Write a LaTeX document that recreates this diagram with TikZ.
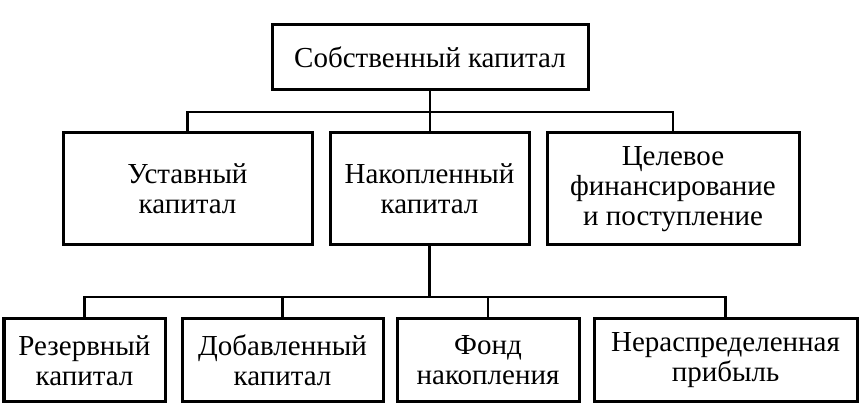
\documentclass[tikz,border=0pt]{standalone}
\usepackage{fontspec}
\setmainfont{Liberation Serif}
\usepackage{tikz}
\usetikzlibrary{positioning}
\tikzset{
	box/.style={draw, line width=1.5pt, align=center, inner sep=0pt,
		font=\fontsize{14.5}{15}\selectfont},
	midbox/.style={box, minimum height=56pt},
	lowbox/.style={box, minimum height=41.5pt},
	link/.style={line width=1.3pt},
}
\begin{document}
\begin{tikzpicture}[x=0.5pt, y=-0.5pt]
	\useasboundingbox (0, 0) rectangle (864, 410);
	% root
	\node[box, minimum width=158pt, minimum height=32.5pt] (own) at (430, 57.5) {Собственный капитал};
	% second level
	\node[midbox, minimum width=124.5pt] (charter) at (187.5, 189) {Уставный\\капитал};
	\node[midbox, minimum width=99.5pt] (accum) at (429.5, 189) {Накопленный\\капитал};
	\node[midbox, minimum width=126pt] (target) at (673, 189) {Целевое\\финансирование\\и поступление};
	% third level
	\node[lowbox, minimum width=80.5pt] (reserve) at (84.5, 360.5) {Резервный\\капитал};
	\node[lowbox, minimum width=100.5pt] (added) at (282.5, 360.5) {Добавленный\\капитал};
	\node[lowbox, minimum width=91pt] (fund) at (488, 360.5) {Фонд\\накопления};
	\node[lowbox, minimum width=131.5pt] (retained) at (725.5, 360.5) {Нераспределенная\\прибыль};
	% upper bus
	\coordinate (busA) at (430, 112);
	\draw[link] (own.south) -- (own.south |- accum.north);
	\draw[link] (charter.north) |- (busA) -| (target.north);
	% lower bus
	\coordinate (busB) at (430, 297);
	\draw[link] (accum.south) -- (accum.south |- busB);
	\draw[link] (reserve.north) |- (busB) -| (retained.north);
	\draw[link] (added.north) -- (added.north |- busB);
	\draw[link] (fund.north) -- (fund.north |- busB);
\end{tikzpicture}
\end{document}
